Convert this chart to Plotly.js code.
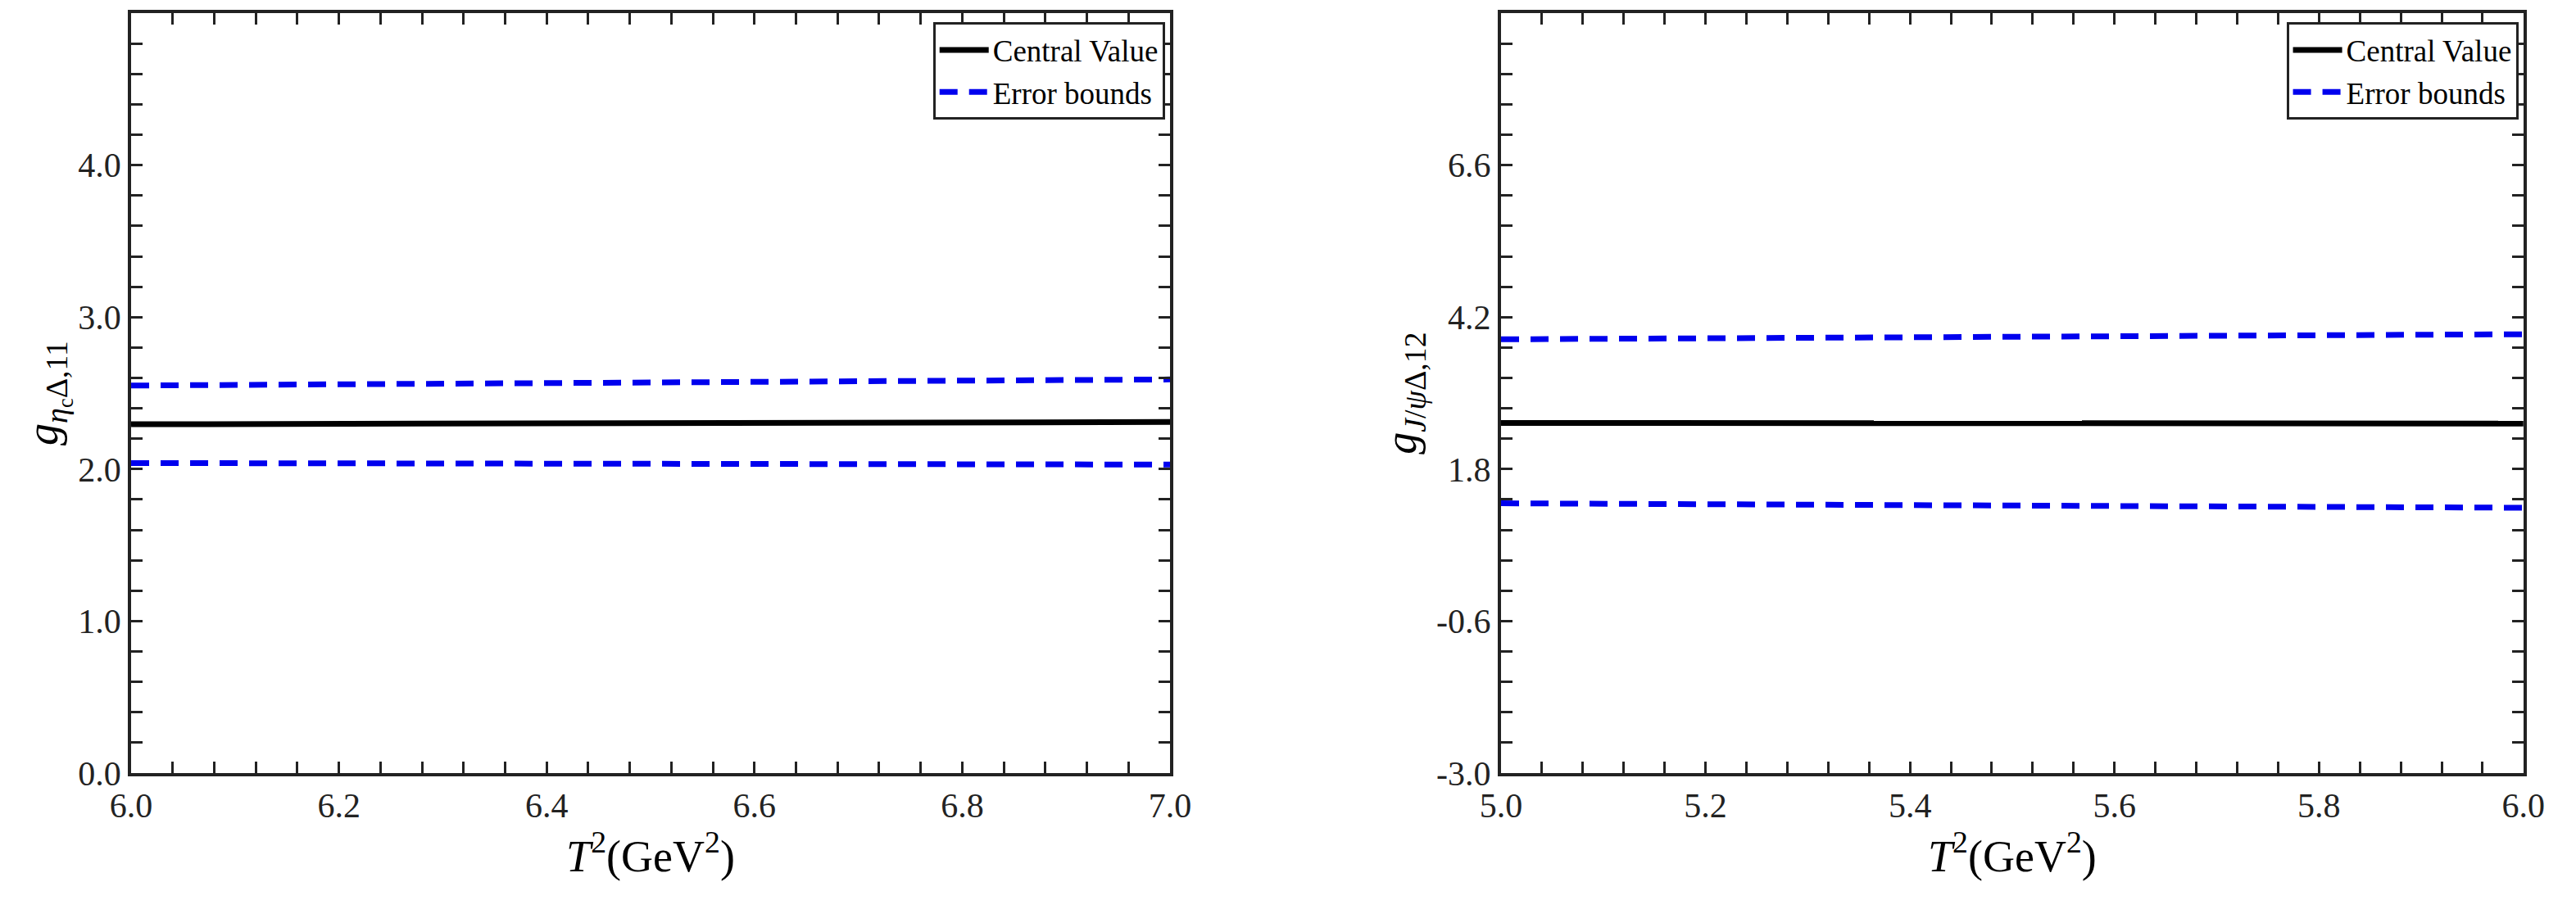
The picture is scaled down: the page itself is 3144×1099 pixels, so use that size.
<!DOCTYPE html>
<html><head><meta charset="utf-8">
<script src="https://cdn.plot.ly/plotly-3.0.1.min.js"></script>
<style>body{margin:0}</style></head><body>
<div id="c" style="width:3144px;height:1099px"></div>
<script>
const xLeft = [6.0, 6.2, 6.4, 6.6, 6.8, 7.0];
const centralLeft = [2.295, 2.298, 2.301, 2.304, 2.307, 2.31];
const upperLeft = [2.55, 2.56, 2.57, 2.575, 2.582, 2.59];
const lowerLeft = [2.04, 2.038, 2.036, 2.034, 2.032, 2.03];
const xRight = [5.0, 5.2, 5.4, 5.6, 5.8, 6.0];
const centralRight = [2.53, 2.528, 2.526, 2.524, 2.522, 2.52];
const upperRight = [3.85, 3.865, 3.88, 3.895, 3.91, 3.93];
const lowerRight = [1.26, 1.245, 1.23, 1.215, 1.2, 1.19];
const xTicksLeft = [6.0, 6.2, 6.4, 6.6, 6.8, 7.0];
const xTickTextLeft = ['6.0', '6.2', '6.4', '6.6', '6.8', '7.0'];
const yTicksLeft = [0, 1, 2, 3, 4, 5];
const yTickTextLeft = ['0.0', '1.0', '2.0', '3.0', '4.0', '5.0'];
const xTicksRight = [5.0, 5.2, 5.4, 5.6, 5.8, 6.0];
const xTickTextRight = ['5.0', '5.2', '5.4', '5.6', '5.8', '6.0'];
const yTicksRight = [-3, -0.6, 1.8, 4.2, 6.6, 9];
const yTickTextRight = ['-3.0', '-0.6', '1.8', '4.2', '6.6', '9.0'];

const fam = "'Liberation Serif', 'Times New Roman', serif";
const font = {family: fam, color: '#000'};
const blk = {color: '#000', width: 7};
const blu = {color: '#0000ee', width: 7, dash: '22px,14px'};
const traces = [
 {x: xLeft, y: centralLeft, mode: 'lines', line: blk, name: 'Central Value', xaxis: 'x', yaxis: 'y', legend: 'legend'},
 {x: xLeft, y: upperLeft, mode: 'lines', line: blu, name: 'Error bounds', xaxis: 'x', yaxis: 'y', legend: 'legend'},
 {x: xLeft, y: lowerLeft, mode: 'lines', line: blu, name: 'Error bounds', showlegend: false, xaxis: 'x', yaxis: 'y'},
 {x: xRight, y: centralRight, mode: 'lines', line: blk, name: 'Central Value', xaxis: 'x2', yaxis: 'y2', legend: 'legend2'},
 {x: xRight, y: upperRight, mode: 'lines', line: blu, name: 'Error bounds', xaxis: 'x2', yaxis: 'y2', legend: 'legend2'},
 {x: xRight, y: lowerRight, mode: 'lines', line: blu, name: 'Error bounds', showlegend: false, xaxis: 'x2', yaxis: 'y2'}
];
const minor = (d) => ({dtick: d, ticks: 'inside', ticklen: 14, tickwidth: 3, tickcolor: '#222'});
function ax(o) {
 return Object.assign({showgrid: false, zeroline: false, showline: true, linecolor: '#222', linewidth: 4,
  mirror: 'ticks', ticks: 'inside', ticklen: 14, tickwidth: 3, tickcolor: '#222', tickmode: 'array',
  tickfont: {family: fam, color: '#222', size: 42}}, o);
}
const tfont = {family: fam, color: '#000', size: 54};
const leg = (x) => ({x: x, y: 0.975, xanchor: 'right', yanchor: 'top', bgcolor: '#fff', bordercolor: '#222', borderwidth: 3,
  font: {family: fam, color: '#000', size: 37}, tracegroupgap: 0, itemwidth: 60});
const layout = {
 width: 3144, height: 1099, margin: {l: 0, r: 0, t: 0, b: 0},
 paper_bgcolor: '#fff', plot_bgcolor: '#fff', font: font,
 xaxis: ax({domain: [0.0509, 0.4542], range: [6.0, 7.0], tickvals: xTicksLeft, ticktext: xTickTextLeft, minor: minor(0.04),
  title: {text: '<i>T</i><sup>2</sup>(GeV<sup>2</sup>)', font: tfont, standoff: 8}, anchor: 'y'}),
 yaxis: ax({domain: [0.141, 0.9854], range: [0, 5], tickvals: yTicksLeft, ticktext: yTickTextLeft, minor: minor(0.2),
  title: {text: '<i>g</i><sub><i>η</i><sub>c</sub>Δ,11</sub>', font: tfont, standoff: 8}, anchor: 'x'}),
 xaxis2: ax({domain: [0.5827, 0.9796], range: [5.0, 6.0], tickvals: xTicksRight, ticktext: xTickTextRight, minor: minor(0.04),
  title: {text: '<i>T</i><sup>2</sup>(GeV<sup>2</sup>)', font: tfont, standoff: 8}, anchor: 'y2'}),
 yaxis2: ax({domain: [0.141, 0.9854], range: [-3, 9], tickvals: yTicksRight, ticktext: yTickTextRight, minor: Object.assign(minor(0.48), {tick0: -3}),
  title: {text: '<i>g</i><sub><i>J</i>/<i>ψ</i>Δ,12</sub>', font: tfont, standoff: 8}, anchor: 'x2'}),
 legend: leg(0.4522),
 legend2: leg(0.9776),
 showlegend: true
};
Plotly.newPlot('c', traces, layout, {displayModeBar: false, staticPlot: true});
</script></body></html>
